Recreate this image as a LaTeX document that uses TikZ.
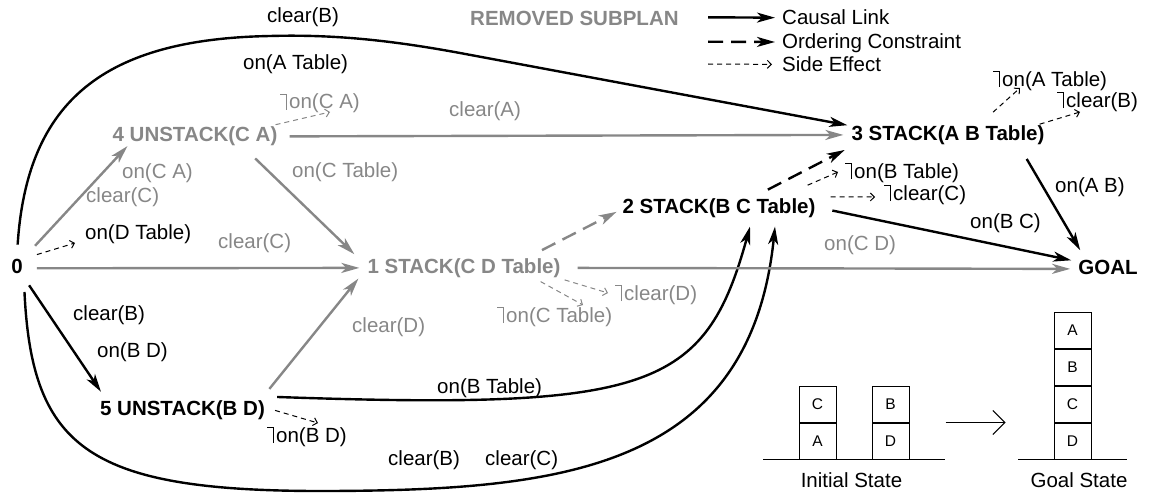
\documentclass[tikz,border=0pt]{standalone}
\usepackage{fontspec}
\setmainfont{Liberation Sans}
\usepackage{tikz}
\usetikzlibrary{arrows.meta}
\usetikzlibrary{positioning}
\definecolor{subplangray}{rgb}{0.53,0.53,0.53}
\newcommand{\negbar}{\rule[14pt]{6pt}{1pt}\rule[-1pt]{1pt}{16pt}\hspace{2pt}}

\begin{document}
\begin{tikzpicture}[x=1pt,y=-1pt,
act/.style={font=\bfseries, inner sep=4pt, text height=15pt, text depth=4pt},
lbl/.style={anchor=base west, inner sep=0pt},
causal/.style={line width=2.4pt, -{Stealth[length=18pt,width=10pt,inset=5pt]}},
order/.style={causal, dash pattern=on 15pt off 8pt},
sideeff/.style={line width=1pt, dash pattern=on 5pt off 4pt, -{Straight Barb[length=4pt,width=8pt]}},
removed/.style={color=subplangray},
block/.style={draw, line width=1pt, minimum width=37pt, minimum height=36pt, inner sep=0pt, font=\fontsize{15.5}{18}\selectfont}]
\fontsize{20.5}{24}\selectfont
\useasboundingbox (0,0) rectangle (1149,495);
\node[act] (n0) at (17,268.3) {0};
\node[act,removed] (n4) at (195,136.4) {4 UNSTACK(C A)};
\node[act] (n3) at (948,134.9) {3 STACK(A B Table)};
\node[act] (n2) at (719,207.9) {2 STACK(B C Table)};
\node[act,removed] (n1) at (464,267.9) {1 STACK(C D Table)};
\node[act] (goal) at (1108,268.9) {GOAL};
\node[act] (n5) at (182.5,410.4) {5 UNSTACK(B D)};
\node[lbl,removed] (se4) at (280,109) {\negbar on(C A)};
\node[lbl] (se0) at (85,239) {on(D Table)};
\node[lbl] (se3a) at (993,86) {\negbar on(A Table)};
\node[lbl] (se3b) at (1057,107) {\negbar clear(B)};
\node[lbl] (se2a) at (845,178) {\negbar on(B Table)};
\node[lbl] (se2b) at (884,200) {\negbar clear(C)};
\node[lbl,removed] (se1a) at (615,300) {\negbar clear(D)};
\node[lbl,removed] (se1b) at (497,322) {\negbar on(C Table)};
\node[lbl] (se5) at (267,442) {\negbar on(B D)};
\node[lbl] (l03a) at (267,23) {clear(B)};
\node[lbl] (l03b) at (243,70) {on(A Table)};
\node[lbl,removed] (l04a) at (122,178) {on(C A)};
\node[lbl,removed] (l04b) at (86,202) {clear(C)};
\node[lbl,removed] (l41) at (292,177) {on(C Table)};
\node[lbl,removed] (l43) at (449,117) {clear(A)};
\node[lbl,removed] (l01) at (218,248) {clear(C)};
\node[lbl] (l05a) at (73,320) {clear(B)};
\node[lbl] (l05b) at (97,357) {on(B D)};
\node[lbl,removed] (l51) at (352,332) {clear(D)};
\node[lbl] (l52) at (437,393) {on(B Table)};
\node[lbl] (l02a) at (388,465) {clear(B)};
\node[lbl] (l02b) at (485,465) {clear(C)};
\node[lbl,removed] (l1g) at (824,250) {on(C D)};
\node[lbl] (l2g) at (970,228) {on(B C)};
\node[lbl] (l3g) at (1055,192) {on(A B)};
\node[lbl,removed,font=\bfseries] (rsub) at (470,26) {REMOVED SUBPLAN};
\node[lbl] (legc) at (782,25) {Causal Link};
\node[lbl] (lego) at (782,48.3) {Ordering Constraint};
\node[lbl] (legs) at (782,71.7) {Side Effect};
\coordinate (legca) at (708,17.3);
\coordinate (legoa) at (708,41.7);
\coordinate (legsa) at (708,64);
\draw[causal] (legca) -- ([xshift=-7pt]legc.west);
\draw[order] (legoa) -- ([xshift=-7pt,yshift=1pt]lego.west);
\draw[sideeff] (legsa) -- ([xshift=-10pt]legs.west);
\draw[causal,removed,shorten <=12pt] (n0.north east) -- ([xshift=19pt,yshift=4pt]n4.south west);
\draw[causal,removed,shorten <=10pt,shorten >=4pt] (n0.east) -- (n1.west);
\draw[causal,shorten <=4pt] (n0.south east) -- ([xshift=5pt,yshift=5pt]n5.north west);
\draw[causal,shorten <=10pt] (n0.north) .. controls (27,100) and (105,39) .. (270,36) .. controls (340,34) and (400,42) .. (460,53) -- ([yshift=-4pt]n3.north west);
\draw[causal,shorten <=10pt] ([xshift=7pt]n0.south) .. controls (32,450) and (90,492) .. (330,491) .. controls (560,490) and (750,470) .. ([xshift=56pt,yshift=-5pt]n2.south);
\draw[causal,shorten <=8pt] (n5.north east) .. controls (650,410) and (705,390) .. ([xshift=31pt,yshift=-5pt]n2.south);
\draw[causal,removed,shorten <=10pt] ([xshift=-6pt]n5.north east) -- ([xshift=-5pt,yshift=3pt]n1.south west);
\draw[causal,removed,shorten <=8pt,shorten >=4pt] (n4.east) -- (n3.west);
\draw[causal,removed,shorten <=12pt] ([xshift=-35pt]n4.south east) -- ([xshift=-9pt]n1.north west);
\draw[order,removed,shorten <=9pt,shorten >=2pt] ([xshift=70pt]n1.north) -- ([yshift=-3pt]n2.west);
\draw[causal,removed,shorten <=13pt,shorten >=4pt] (n1.east) -- (goal.west);
\draw[order,shorten <=10pt,shorten >=3pt] ([xshift=40pt]n2.north) -- (n3.south west);
\draw[causal,shorten <=13pt,shorten >=3pt] (n2.east) -- ([yshift=8pt]goal.west);
\draw[causal,shorten <=12pt] ([xshift=-28pt]n3.south east) -- ([xshift=6pt,yshift=5pt]goal.north west);
\draw[sideeff,removed] ([xshift=-6pt,yshift=-2pt]n4.north east) -- ([xshift=50pt,yshift=-3pt]se4.base west);
\draw[sideeff] ([xshift=10pt]n0.north east) -- ([xshift=-10pt,yshift=-4pt]se0.base west);
\draw[sideeff] ([xshift=45pt,yshift=9pt]n3.north) -- ([xshift=27pt,yshift=-2pt]se3a.base west);
\draw[sideeff] ([xshift=-9pt,yshift=-3pt]n3.north east) -- ([xshift=23pt,yshift=-5pt]se3b.base west);
\draw[sideeff] ([xshift=-12pt,yshift=9pt]n2.north east) -- ([xshift=-7pt,yshift=6pt]se2a.base west);
\draw[sideeff] ([xshift=11pt,yshift=11pt]n2.east) -- ([xshift=-9pt,yshift=3pt]se2b.base west);
\draw[sideeff,removed] ([yshift=-12pt]n1.east) -- ([xshift=-7pt,yshift=7pt]se1a.base west);
\draw[sideeff,removed] ([xshift=-24pt]n1.south east) -- ([xshift=86pt,yshift=17pt]se1b.base west);
\draw[sideeff] ([xshift=6pt]n5.east) -- ([xshift=51pt,yshift=19pt]se5.base west);
\node[block] (a0) at (817.5,441) {A};
\node[block, above=0pt of a0] (c0) {C};
\node[block] (d0) at (890.5,441) {D};
\node[block, above=0pt of d0] (b0) {B};
\node[block] (dg) at (1072.5,441) {D};
\node[block, above=0pt of dg] (cg) {C};
\node[block, above=0pt of cg] (bg) {B};
\node[block, above=0pt of bg] (ag) {A};
\draw[line width=1pt] (763,459) -- (945,459);
\draw[line width=1pt] (1018,459) -- (1127,459);
\draw[line width=1pt, -{Straight Barb[length=12pt,width=24pt]}] ([xshift=36pt]d0.north east) -- ([xshift=-48pt]dg.north west);
\node[anchor=base] (initlbl) at (851.5,487) {Initial State};
\node[anchor=base] (goallbl) at (1079,487) {Goal State};
\end{tikzpicture}
\end{document}
